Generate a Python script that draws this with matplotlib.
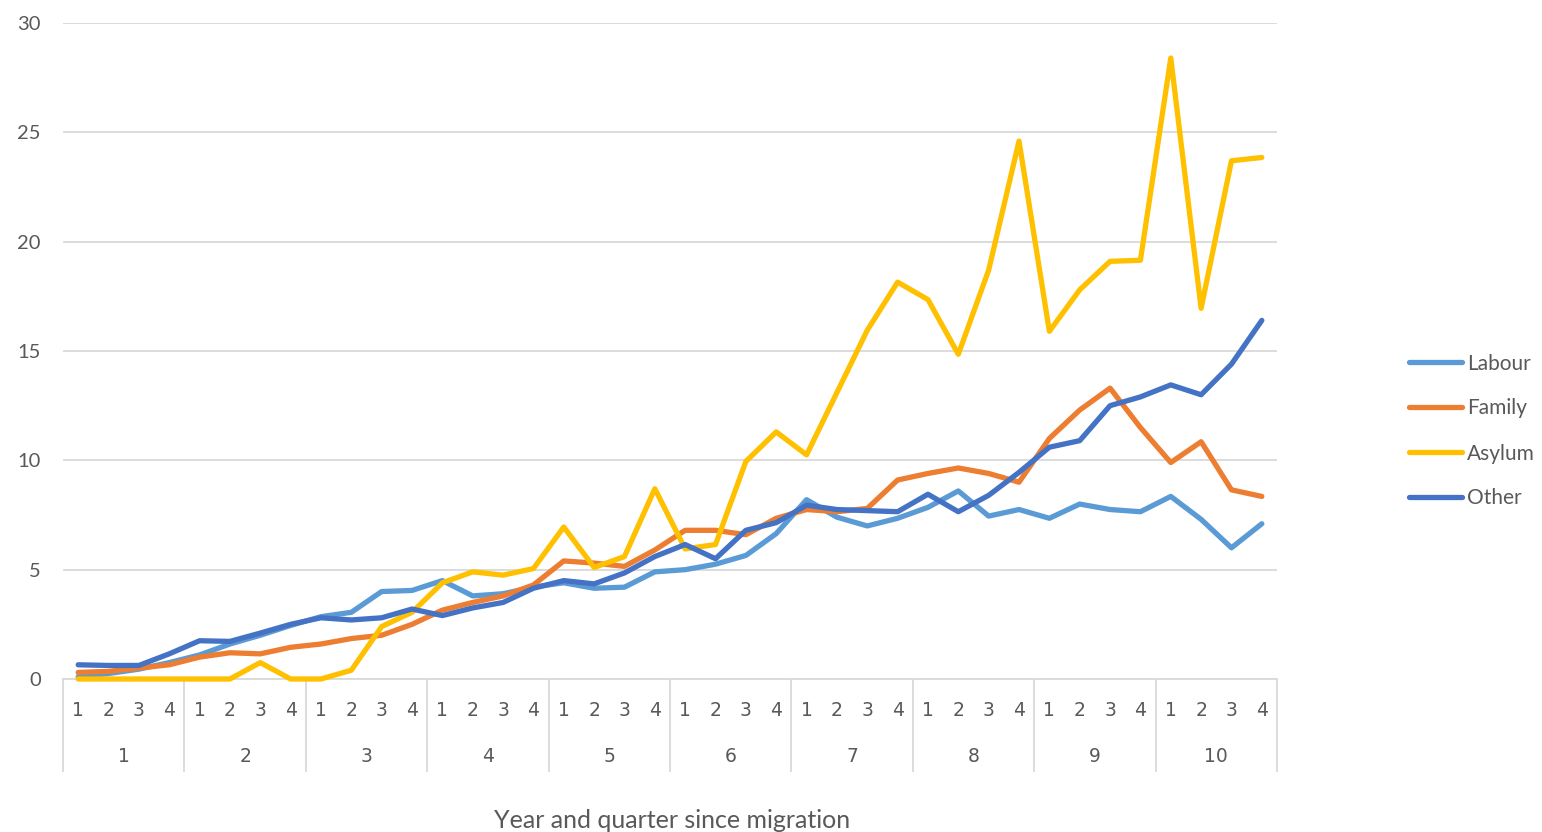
import matplotlib
matplotlib.use("Agg")
import matplotlib.pyplot as plt
import matplotlib.transforms as transforms
import numpy as np

# quarters 1-4 for each of 10 years since migration
years = [str(y) for y in range(1, 11)]
quarters = ["1", "2", "3", "4"]

labour = [0.1, 0.25, 0.45, 0.75, 1.1, 1.6, 2.0, 2.45, 2.85, 3.05,
          4.0, 4.05, 4.5, 3.8, 3.9, 4.2, 4.4, 4.15, 4.2, 4.9,
          5.0, 5.25, 5.65, 6.65, 8.2, 7.4, 7.0, 7.35, 7.85, 8.6,
          7.45, 7.75, 7.35, 8.0, 7.75, 7.65, 8.35, 7.3, 6.0, 7.1]
family = [0.3, 0.35, 0.5, 0.65, 1.0, 1.2, 1.15, 1.45, 1.6, 1.85,
          2.0, 2.5, 3.15, 3.5, 3.8, 4.3, 5.4, 5.3, 5.15, 5.9,
          6.8, 6.8, 6.6, 7.35, 7.75, 7.65, 7.8, 9.1, 9.4, 9.65,
          9.4, 9.0, 11.0, 12.3, 13.3, 11.5, 9.9, 10.85, 8.65, 8.35]
asylum = [0.0, 0.0, 0.0, 0.0, 0.0, 0.0, 0.75, 0.0, 0.0, 0.4,
          2.4, 3.05, 4.4, 4.9, 4.75, 5.05, 6.95, 5.1, 5.6, 8.7,
          5.95, 6.15, 9.95, 11.3, 10.25, 13.1, 15.95, 18.15, 17.35, 14.85,
          18.7, 24.6, 15.9, 17.8, 19.1, 19.15, 28.4, 16.95, 23.7, 23.85]
other = [0.65, 0.62, 0.62, 1.15, 1.75, 1.72, 2.1, 2.5, 2.8, 2.7,
         2.8, 3.2, 2.9, 3.25, 3.5, 4.15, 4.5, 4.35, 4.85, 5.6,
         6.15, 5.5, 6.8, 7.15, 7.95, 7.75, 7.7, 7.65, 8.45, 7.65,
         8.4, 9.45, 10.6, 10.9, 12.5, 12.9, 13.45, 13.0, 14.4, 16.4]

series = [("Labour", labour, "#5B9BD5"),
          ("Family", family, "#ED7D31"),
          ("Asylum", asylum, "#FFC000"),
          ("Other", other, "#4472C4")]

grey = "#595959"
grid = "#D9D9D9"
plt.rcParams["font.family"] = ["Lato", "DejaVu Sans"]

W, H = 1542, 832
fig = plt.figure(figsize=(W / 100, H / 100), dpi=100)
ax = fig.add_axes([63 / W, 1 - 679 / H, (1277 - 63) / W, (679 - 23) / H])

x = np.arange(len(labour))
for name, vals, col in series:
    ax.plot(x, vals, color=col, lw=3.8, label=name, solid_joinstyle="round",
            solid_capstyle="round", clip_on=False, zorder=3)

ax.set_xlim(-0.5, len(x) - 0.5)
ax.set_ylim(0, 30)
ax.set_yticks(range(0, 31, 5))
ax.yaxis.grid(True, color=grid, lw=1.3)
ax.set_axisbelow(True)
for s in ["left", "right", "top"]:
    ax.spines[s].set_visible(False)
ax.spines["bottom"].set_color(grid)
ax.spines["bottom"].set_linewidth(1.3)
ax.tick_params(axis="y", length=0, pad=16, labelsize=14.5, labelcolor=grey)

# quarter labels
ax.set_xticks(x)
ax.set_xticklabels(quarters * len(years), fontsize=13.5, color=grey,
                   family=["Liberation Sans Narrow", "DejaVu Sans"])
ax.tick_params(axis="x", length=0, pad=16)

# year labels and separators
trans = transforms.blended_transform_factory(ax.transData, ax.transAxes)
depth = (771 - 679) / (679 - 23)
for i, yr in enumerate(years):
    ax.text(i * 4 + 1.5, -78 / 656, yr, transform=trans, ha="center",
            va="center", fontsize=13.5, color=grey,
            family=["Liberation Sans Narrow", "DejaVu Sans"])
for b in range(len(years) + 1):
    ax.plot([b * 4 - 0.5, b * 4 - 0.5], [0, -depth], transform=trans,
            color=grid, lw=1.3, clip_on=False)

fig.text(672 / W, 1 - 820 / H, "Year and quarter since migration",
         ha="center", va="center", fontsize=18, color=grey)

fig.legend(loc="center left", bbox_to_anchor=(1409 / W, 1 - 431 / H),
           frameon=False, fontsize=15, labelcolor=grey, handlelength=2.55,
           handletextpad=0.22, labelspacing=1.2, borderaxespad=0,
           borderpad=0)

fig.savefig("out.png", dpi=100)
